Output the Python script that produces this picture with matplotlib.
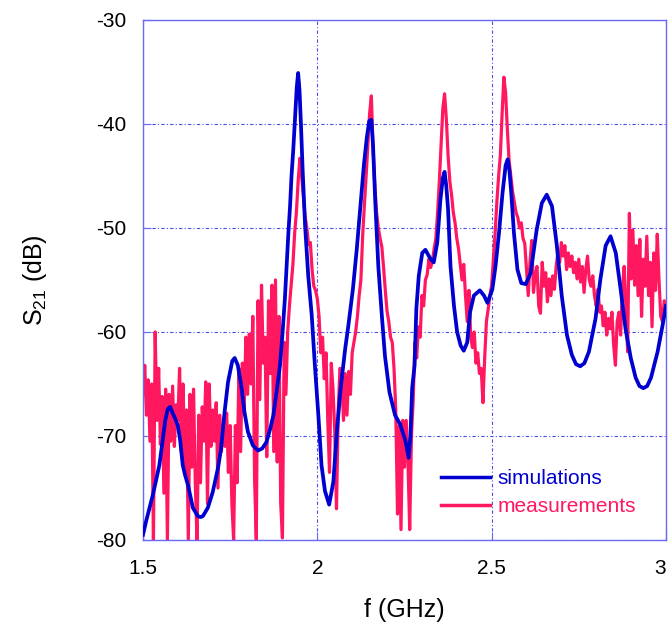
import numpy as np
import matplotlib
matplotlib.use("Agg")
import matplotlib.pyplot as plt

plt.rcParams["font.family"] = ["Liberation Sans", "DejaVu Sans"]
plt.rcParams["mathtext.default"] = "regular"
plt.rcParams["axes.unicode_minus"] = False

# ---- simulated S21 (GHz, dB) ----
sim_freq = [
    1.500, 1.509, 1.518, 1.528, 1.538, 1.547, 1.556, 1.564, 1.571, 1.578,
    1.585, 1.592, 1.600, 1.607, 1.614, 1.621, 1.629, 1.643, 1.657, 1.665,
    1.672, 1.686, 1.700, 1.715, 1.724, 1.734, 1.744, 1.756, 1.763, 1.772,
    1.782, 1.791, 1.801, 1.815, 1.830, 1.842, 1.854, 1.865, 1.874, 1.883,
    1.893, 1.900, 1.907, 1.912, 1.917, 1.922, 1.926, 1.931, 1.936, 1.941,
    1.945, 1.949, 1.953, 1.958, 1.965, 1.974, 1.984, 1.993, 2.003, 2.012,
    2.022, 2.034, 2.046, 2.056, 2.067, 2.080, 2.089, 2.102, 2.113, 2.123,
    2.134, 2.142, 2.149, 2.155, 2.160, 2.166, 2.175, 2.185, 2.194, 2.207,
    2.223, 2.238, 2.253, 2.262, 2.267, 2.272, 2.279, 2.284, 2.291, 2.301,
    2.310, 2.325, 2.334, 2.344, 2.353, 2.360, 2.365, 2.370, 2.375, 2.382,
    2.392, 2.401, 2.411, 2.420, 2.430, 2.438, 2.449, 2.466, 2.478, 2.488,
    2.502, 2.511, 2.521, 2.531, 2.540, 2.546, 2.551, 2.556, 2.564, 2.574,
    2.585, 2.598, 2.612, 2.629, 2.644, 2.658, 2.673, 2.687, 2.701, 2.716,
    2.730, 2.742, 2.754, 2.766, 2.779, 2.798, 2.812, 2.827, 2.841, 2.856,
    2.870, 2.884, 2.899, 2.913, 2.924, 2.935, 2.946, 2.957, 2.976, 2.990,
    3.000,
]
sim_db = [
    -79.5, -78.2, -77.0, -75.7, -74.2, -72.8, -70.5, -68.5, -67.4, -67.2,
    -67.8, -68.3, -69.0, -70.5, -72.8, -73.8, -74.7, -76.9, -77.7, -77.8,
    -77.7, -76.9, -75.4, -73.1, -71.2, -67.7, -64.8, -62.8, -62.5, -63.2,
    -65.2, -67.7, -69.6, -70.9, -71.4, -71.2, -70.6, -69.3, -68.0, -65.8,
    -63.2, -60.2, -56.8, -53.7, -50.5, -47.8, -45.0, -42.5, -39.5, -36.5,
    -35.1, -36.8, -40.0, -44.5, -49.8, -54.6, -58.4, -63.2, -68.0, -72.8,
    -75.3, -76.6, -74.4, -69.6, -65.4, -61.6, -59.4, -55.9, -52.1, -48.2,
    -43.8, -41.3, -39.7, -39.6, -42.2, -47.3, -53.7, -58.4, -62.3, -65.8,
    -68.0, -68.9, -70.5, -72.1, -70.0, -65.4, -63.2, -57.8, -54.6, -52.4,
    -52.1, -53.0, -53.3, -51.4, -47.3, -45.2, -44.6, -46.0, -48.2, -53.7,
    -57.5, -60.0, -61.3, -61.8, -61.0, -58.1, -56.5, -56.0, -56.5, -57.2,
    -55.9, -53.7, -50.5, -46.7, -44.0, -43.4, -44.5, -46.5, -50.5, -54.0,
    -55.3, -55.4, -54.3, -50.2, -47.6, -46.8, -47.9, -51.7, -56.5, -60.3,
    -62.2, -63.1, -63.3, -63.0, -61.9, -58.7, -54.9, -51.7, -50.8, -52.4,
    -55.9, -59.7, -62.5, -64.4, -65.2, -65.4, -65.2, -64.4, -61.9, -59.4,
    -57.5,
]

# ---- measured S21, one sample every 5 MHz from 1.5 to 3.0 GHz (dB) ----
meas_db = [
    # 1.500 - 1.595
    -66.0, -63.2, -68.0, -64.6, -70.5, -65.0, -80.0, -60.0, -68.5, -63.5,
    -70.8, -66.2, -75.5, -65.5, -80.0, -66.0, -70.5, -65.2, -71.0, -67.0,
    # 1.600 - 1.695
    -68.5, -63.5, -71.5, -65.0, -73.5, -67.5, -80.0, -66.0, -73.0, -65.5,
    -74.5, -80.0, -68.0, -74.5, -67.2, -70.5, -64.8, -76.5, -65.0, -71.0,
    # 1.700 - 1.795
    -67.5, -70.5, -66.8, -75.0, -68.0, -71.5, -69.0, -71.0, -67.8, -73.5,
    -69.0, -76.5, -80.0, -69.0, -74.5, -63.5, -71.5, -63.0, -67.5, -60.5,
    # 1.800 - 1.895
    -66.0, -60.2, -65.0, -58.5, -74.0, -80.0, -57.0, -66.5, -55.5, -63.0,
    -60.5, -72.0, -57.0, -64.0, -55.5, -71.5, -55.0, -72.5, -58.5, -76.5,
    # 1.900 - 1.995
    -79.8, -61.0, -66.0, -60.0, -57.5, -55.5, -53.5, -50.5, -48.5, -45.5,
    -43.3, -45.0, -47.0, -48.9, -50.0, -51.6, -51.4, -54.0, -55.6, -56.0,
    # 2.000 - 2.095
    -56.8, -58.5, -62.0, -60.5, -64.5, -62.0, -68.5, -73.5, -63.0, -65.5,
    -69.5, -77.0, -67.5, -63.5, -64.0, -68.5, -64.0, -68.0, -63.8, -66.0,
    # 2.100 - 2.195
    -62.0, -61.0, -60.0, -58.5, -56.5, -55.0, -50.8, -47.8, -45.0, -42.0,
    -39.0, -37.3, -42.5, -46.0, -48.5, -50.0, -51.0, -51.8, -53.8, -56.0,
    # 2.200 - 2.295
    -58.0, -59.0, -60.5, -61.0, -63.5, -67.5, -77.5, -69.0, -79.0, -68.5,
    -73.0, -68.5, -72.5, -79.0, -70.0, -66.5, -61.0, -62.5, -59.5, -60.5,
    # 2.300 - 2.395
    -56.5, -57.5, -55.0, -54.5, -53.0, -53.8, -53.2, -52.0, -51.0, -48.5,
    -45.5, -42.0, -38.5, -37.1, -39.5, -43.0, -45.5, -46.8, -48.5, -49.5,
    # 2.400 - 2.495
    -51.0, -52.0, -53.5, -55.0, -53.5, -56.5, -59.0, -56.0, -60.5, -61.5,
    -60.0, -63.0, -62.0, -64.0, -63.5, -66.8, -62.5, -59.0, -57.8, -56.5,
    # 2.500 - 2.595
    -55.5, -53.0, -50.5, -47.5, -45.0, -43.0, -39.0, -35.5, -37.0, -40.5,
    -43.5, -45.0, -46.5, -47.5, -48.5, -49.0, -50.0, -49.5, -51.0, -51.5,
    # 2.600 - 2.695
    -54.0, -56.5, -53.3, -51.2, -56.2, -54.5, -53.7, -57.5, -58.2, -53.3,
    -55.6, -54.3, -57.1, -54.9, -56.5, -54.6, -55.9, -53.7, -52.4, -53.3,
    # 2.700 - 2.795
    -51.4, -52.7, -51.7, -54.0, -52.4, -53.7, -52.7, -54.3, -53.3, -54.9,
    -53.0, -55.2, -53.7, -56.2, -54.0, -52.7, -55.0, -55.6, -54.6, -56.5,
    # 2.800 - 2.895
    -57.5, -55.9, -58.1, -57.5, -59.4, -58.1, -60.3, -58.7, -59.7, -58.1,
    -61.3, -63.2, -59.0, -58.1, -60.3, -55.9, -53.7, -57.5, -61.9, -48.6,
    # 2.900 - 3.000
    -54.9, -50.2, -55.5, -51.7, -56.5, -51.1, -58.5, -53.0, -55.6, -50.8,
    -56.5, -53.3, -59.5, -52.4, -56.0, -50.6, -55.0, -58.5, -59.0, -57.0,
    -57.5,
]
meas_freq = np.round(1.5 + 0.005 * np.arange(len(meas_db)), 3)

x_ticks = [1.5, 2.0, 2.5, 3.0]
x_ticklabels = ["1.5", "2", "2.5", "3"]
y_ticks = [-80, -70, -60, -50, -40, -30]

BLUE = "#0000d0"
RED = "#ff1760"
FRAME = "#6a6af5"
GRID = "#4a4af0"

fig = plt.figure(figsize=(6.70, 6.34), dpi=100)
ax = fig.add_axes([0.2134, 0.1483, 0.7806, 0.8202])

ax.plot(sim_freq, sim_db, color=BLUE, lw=2.7, label="simulations", zorder=3)
ax.plot(meas_freq, meas_db, color=RED, lw=2.3, label="measurements", zorder=2)

ax.set_xlim(1.5, 3.0)
ax.set_ylim(-80, -30)
ax.set_xticks(x_ticks)
ax.set_xticklabels(x_ticklabels)
ax.set_yticks(y_ticks)

ax.grid(True, color=GRID, lw=0.8, linestyle=(0, (3, 2, 1, 2)))
for sp in ax.spines.values():
    sp.set_color(FRAME)
    sp.set_linewidth(1.0)
ax.tick_params(direction="in", length=6, width=0.8, color=FRAME,
               labelsize=15, pad=12, top=False, right=False)
ax.tick_params(axis="x", pad=14)
# keep the last x label inside the canvas
ax.get_xticklabels()[-1].set_horizontalalignment("right")

ax.set_xlabel("f (GHz)", fontsize=18, labelpad=14)
ax.set_ylabel("S$_{21}$ (dB)", fontsize=18, labelpad=34)

leg = ax.legend(loc="center left", bbox_to_anchor=(0.570, 0.0913),
                frameon=False, fontsize=15, handlelength=2.35,
                handletextpad=0.35, labelspacing=0.45,
                borderpad=0, borderaxespad=0)
for txt, col in zip(leg.get_texts(), [BLUE, RED]):
    txt.set_color(col)
for line in leg.get_lines():
    line.set_linewidth(2.5)

fig.savefig("out.png", dpi=100)
